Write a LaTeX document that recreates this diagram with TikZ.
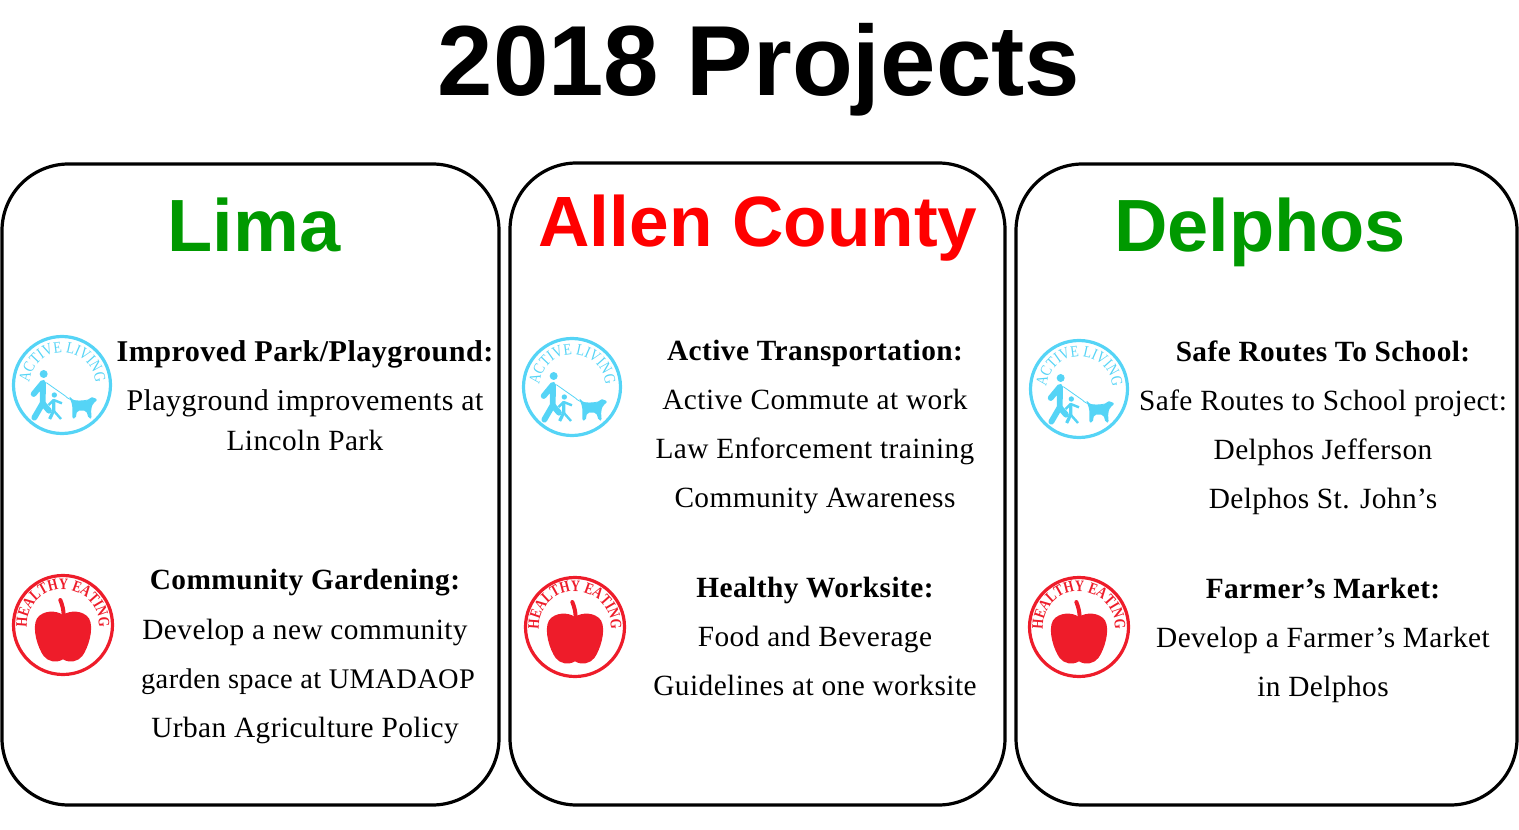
\documentclass[tikz,border=0pt]{standalone}
\usepackage{fontspec}
\setmainfont{Liberation Serif}
\setsansfont{Liberation Sans}
\newfontfamily\bodyfont[LetterSpace=1.5]{Liberation Serif}
\newfontfamily\activefont[FakeStretch=.84]{Liberation Serif}
\newfontfamily\healthyfont[FakeStretch=.8]{Liberation Serif}
\usetikzlibrary{decorations.text}

\definecolor{headgreen}{HTML}{009900}
\definecolor{headred}{HTML}{FF0000}
\definecolor{activeblue}{HTML}{55D4F6}
\definecolor{healthyred}{HTML}{EE1C2A}

\tikzset{
  panel/.style={draw=black, line width=2.4pt, rounded corners=50pt},
  titletext/.style={anchor=base, inner sep=0pt, font=\sffamily\bfseries\fontsize{74.7}{75}\selectfont},
  headtext/.style={anchor=base, inner sep=0pt, font=\sffamily\bfseries\fontsize{55.5}{56}\selectfont},
  headsmall/.style={anchor=base, inner sep=0pt, font=\sffamily\bfseries\fontsize{53.4}{54}\selectfont},
  bodytext/.style={anchor=base, inner sep=0pt, yshift=-.4pt, font=\bodyfont\fontsize{22}{22}\selectfont},
  boldtext/.style={bodytext, font=\bodyfont\bfseries\fontsize{22}{22}\selectfont},
  activelogo/.pic={
    \draw[activeblue, line width=2.4pt] (0,0) circle (48.5);
    \path[decorate, decoration={text along path, text color=activeblue, text align=center,
      text={|\activefont\fontsize{12}{12}\selectfont|ACTIVE LIVING}}]
      (-32,-6) arc[start angle=190, end angle=-10, radius=33];
    \begin{scope}[xscale=1/3, yscale=-1/3, shift={(-185,-195)}]
      \fill[activeblue] (130,162) circle (12);
      \draw[activeblue, line width=4.4pt, line cap=round, line join=round] (100,222) -- (128,188) -- (127,250) -- (102,293);
      \draw[activeblue, line width=4.4pt, line cap=round, line join=round] (127,250) -- (146,272);
      \draw[activeblue, line width=.6pt] (138,188) -- (195,228) .. controls (210,245) and (240,245) .. (262,240);
      \fill[activeblue] (162,225) circle (8);
      \draw[activeblue, line width=1.8pt, line join=round] (145,255) -- (160,240) -- (185,250);
      \draw[activeblue, line width=2.4pt, line join=round] (148,297) -- (160,272) -- (160,240);
      \draw[activeblue, line width=1.8pt, line join=round] (160,272) -- (182,297);
      \fill[activeblue, rounded corners=1.5pt] (206,228) -- (222,243) -- (262,243) -- (268,232) -- (282,232) -- (292,240) -- (278,250)
        -- (272,268) -- (274,296) -- (265,296) -- (258,272) -- (230,272) -- (226,296) -- (216,296)
        -- (216,255) -- cycle;
    \end{scope}
  },
  healthylogo/.pic={
    \draw[healthyred, line width=2.4pt] (0,0) circle (49.5);
    \path[decorate, decoration={text along path, text color=healthyred, text align=center,
      text={|\healthyfont\bfseries\fontsize{12}{12}\selectfont|HEALTHY EATING}}]
      (-35,-9) arc[start angle=194, end angle=-14, radius=36];
    \begin{scope}[xscale=1/3, yscale=-1/3, shift={(-190,-195)}]
      \fill[healthyred] (190,165) .. controls (170,150) and (130,150) .. (112,175)
        .. controls (95,205) and (115,265) .. (132,288)
        .. controls (145,305) and (170,310) .. (190,298)
        .. controls (210,310) and (235,305) .. (248,288)
        .. controls (265,265) and (285,205) .. (268,175)
        .. controls (250,150) and (210,150) .. (190,165) -- cycle;
      \draw[healthyred, line width=3pt, line cap=round] (192,168) .. controls (192,150) and (188,135) .. (182,120);
    \end{scope}
  }
}

\begin{document}
\begin{tikzpicture}[x=.75pt, y=.75pt]

  \useasboundingbox (0,0) rectangle (1519,829);

  \node[titletext] (title) at (759,733) {2018 Projects};

  \draw[panel] (2,24) rectangle (499,665);
  \draw[panel] (510,24) rectangle (1005,666);
  \draw[panel] (1016,24) rectangle (1517,665);

  \node[headtext, text=headgreen] (lima) at (254,577) {Lima};
  \node[headsmall, text=headred] (allen) at (758,582) {Allen County};
  \node[headtext, text=headgreen] (delphos) at (1260,577) {Delphos};

  % Lima
  \pic at (62,444) {activelogo};
  \pic at (63,204) {healthylogo};
  \node[boldtext, font=\bodyfont\bfseries\fontsize{22.6}{22}\selectfont] (limaa) at (305,468) {Improved Park/Playground:};
  \node[bodytext, font=\bodyfont\fontsize{22.5}{22}\selectfont] (limab) at (305,419) {Playground improvements at};
  \node[bodytext] (limac) at (305,379) {Lincoln Park};
  \node[boldtext] (limad) at (305,240) {Community Gardening:};
  \node[bodytext] (limae) at (305,190) {Develop a new community};
  \node[bodytext, font=\bodyfont\fontsize{21.3}{22}\selectfont] (limaf) at (308,141) {garden space at UMADAOP};
  \node[bodytext] (limag) at (305,92) {Urban Agriculture Policy};

  % Allen County
  \pic at (572,442) {activelogo};
  \pic at (575,202) {healthylogo};
  \node[boldtext] (allena) at (815,469) {Active Transportation:};
  \node[bodytext] (allenb) at (815,420) {Active Commute at work};
  \node[bodytext] (allenc) at (815,371) {Law Enforcement training};
  \node[bodytext] (allend) at (815,322) {Community Awareness};
  \node[boldtext] (allene) at (815,232) {Healthy Worksite:};
  \node[bodytext] (allenf) at (815,183) {Food and Beverage};
  \node[bodytext] (alleng) at (815,134) {Guidelines at one worksite};

  % Delphos
  \pic at (1079,440) {activelogo};
  \pic at (1079,202) {healthylogo};
  \node[boldtext] (delphosa) at (1323,468) {Safe Routes To School:};
  \node[bodytext] (delphosb) at (1323,419) {Safe Routes to School project:};
  \node[bodytext] (delphosc) at (1323,370) {Delphos Jefferson};
  \node[bodytext] (delphosd) at (1323,321) {Delphos St. John’s};
  \node[boldtext] (delphose) at (1323,231) {Farmer’s Market:};
  \node[bodytext] (delphosf) at (1323,182) {Develop a Farmer’s Market};
  \node[bodytext] (delphosg) at (1323,133) {in Delphos};

\end{tikzpicture}
\end{document}
